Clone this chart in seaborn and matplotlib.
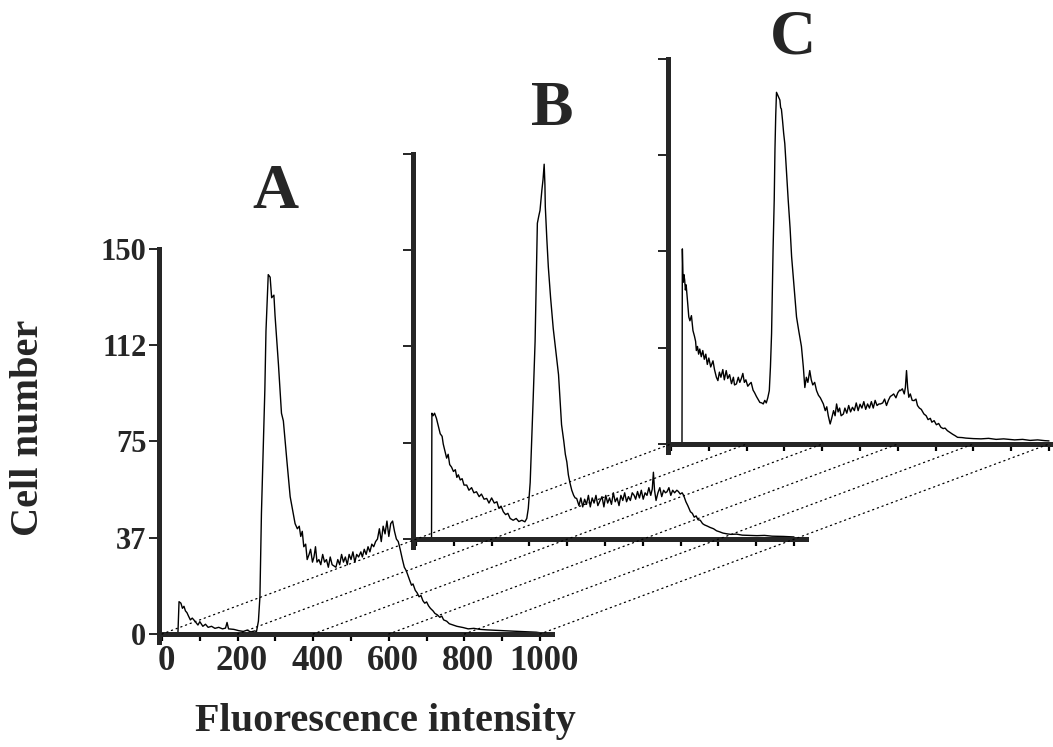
import numpy as np
import pandas as pd
import seaborn as sns
import matplotlib
matplotlib.use("Agg")
import matplotlib.pyplot as plt
from matplotlib.patches import ConnectionPatch
from matplotlib.transforms import ScaledTranslation

# Histogram A (channel, cell count)
a_x = [0, 40, 42, 45, 50, 54, 58, 62, 66, 70, 75, 80, 87, 95, 100, 108, 115, 122, 131, 140,
       150, 160, 168, 172, 176, 190, 203, 215, 225, 235, 245, 250, 255, 259, 263, 268, 272,
       275, 281, 286, 290, 296, 299, 308, 316, 321, 330, 339, 347, 352, 358, 363, 367, 371,
       375, 380, 384, 389, 393, 398, 402, 406, 410, 415, 420, 425, 430, 435, 440, 445, 450,
       455, 460, 465, 470, 475, 480, 485, 490, 495, 500, 505, 510, 515, 520, 526, 530, 535,
       540, 545, 550, 555, 560, 565, 570, 575, 580, 585, 590, 595, 600, 605, 610, 615, 620,
       625, 630, 636, 641, 646, 650, 655, 660, 664, 670, 675, 680, 685, 690, 695, 700, 705,
       710, 717, 722, 728, 735, 740, 745, 753, 760, 770, 780, 797, 810, 825, 841, 860, 886,
       900, 930, 960, 990, 1000]
a_y = [0, 0, 0, 12.6, 12, 10, 10.8, 9, 8.3, 7, 5.5, 6.2, 5, 3.5, 4.8, 3, 3.8, 2.6, 3, 2.2,
       2.6, 2, 2.3, 4.5, 2, 1.8, 1.3, 1.0, 1.5, 0.8, 1.2, 1, 5, 14.5, 47, 73, 95,
       118, 140, 139, 131, 132, 124, 105, 86, 83, 68, 53.5, 47, 43, 41, 42, 38, 40,
       34, 35, 29, 31, 33, 28, 30, 34, 28, 29, 27, 31, 28, 29, 26, 30, 27,
       26.5, 26, 29, 27, 31, 28, 30, 27, 31, 29, 32, 28, 31, 30, 32, 30, 33,
       31, 34, 32, 35, 34, 36, 37, 41, 36, 42, 39, 44, 38, 43, 44, 40, 37,
       36, 33, 29, 26, 24.7, 23, 21, 19, 19.5, 17, 16, 14.5, 15, 13, 12, 12.5, 11,
       10, 9, 8, 7.5, 6.5, 7, 5.5, 5, 4, 3.5, 3, 2.5, 2, 2.2, 1.8, 1.6, 1.4,
       1.3, 1.1, 0.9, 0.7, 0.5]

# Histogram B
b_x = [0, 38, 41, 42, 45, 49, 54, 59, 64, 69, 72, 77, 81, 85, 89, 94, 99, 104, 108, 112,
       117, 122, 127, 134, 140, 147, 153, 160, 167, 173, 180, 187, 193, 200, 207, 214, 219,
       225, 231, 237, 243, 249, 257, 265, 272, 280, 288, 293, 297, 302, 306, 310, 315, 318,
       321, 325, 328, 331, 333, 336, 339, 341, 342, 346, 350, 356, 363, 370, 377, 381, 385,
       391, 395, 399, 403, 407, 412, 417, 421, 425, 431, 436, 441, 446, 451, 456, 461, 466,
       471, 476, 481, 487, 492, 497, 502, 507, 512, 517, 522, 527, 532, 537, 542, 547, 552,
       557, 562, 567, 572, 577, 581, 586, 591, 596, 601, 606, 611, 616, 621, 625, 628, 631,
       635, 640, 645, 650, 655, 660, 664, 669, 674, 679, 684, 690, 694, 699, 704, 708, 714,
       719, 726, 731, 736, 741, 746, 752, 758, 763, 771, 778, 787, 795, 803, 812, 823, 833,
       848, 863, 884, 902, 922, 942, 972, 1000]
b_y = [0, 0, 0, 49, 48, 49, 47, 44, 41, 40, 37, 34, 31.5, 33, 29, 28, 26.3, 27, 24, 25,
       23, 23.5, 21, 21, 19, 20, 18, 18.4, 16.5, 17.5, 15.5, 15.8, 14, 16, 14, 14.5, 12,
       12.8, 10.6, 9.5, 10, 8, 7.3, 8, 6.8, 7.3, 6.7, 8, 11.9, 22, 38, 55, 77, 100,
       123, 126, 128, 133, 136, 140, 146, 138, 129.5, 117, 106, 94, 82, 73, 64, 54, 44.5,
       38, 33, 30, 25, 22, 19, 17, 16, 15.8, 13, 16, 12.5, 15.5, 13.5, 17, 12.5, 16,
       14, 17, 13, 15, 16.5, 12.5, 17, 14, 16, 13.5, 18, 14.5, 16, 13, 17, 15, 18,
       14.5, 16.5, 15, 18, 17, 15.5, 18.5, 16, 19, 15.5, 18, 17, 20, 17, 19.5, 26, 19,
       15, 18, 20, 16.5, 19, 18, 18.4, 20, 17, 19, 18, 19, 18.5, 17.5, 18, 17, 14.5,
       13, 10.6, 10, 8.5, 9, 7.5, 7.3, 6, 5.5, 5, 4.5, 4, 3.2, 2.8, 2.3, 2, 1.8,
       1.9, 1.5, 1.4, 1.3, 1.4, 1.1, 1.0, 0.8]

# Histogram C
c_x = [0, 26, 29, 30, 32, 34, 36, 38, 40, 42, 44, 47, 50, 54, 58, 62, 65, 67, 70, 73,
       76, 80, 84, 88, 92, 96, 100, 105, 111, 115, 120, 124, 128, 132, 137, 141, 146, 150,
       155, 160, 165, 168, 173, 178, 182, 186, 190, 194, 198, 203, 208, 212, 217, 221, 226,
       230, 235, 240, 244, 248, 252, 256, 260, 263, 266, 268, 270, 273, 275, 277, 279, 282,
       285, 288, 290, 292, 295, 298, 301, 305, 310, 315, 319, 325, 332, 338, 345, 350, 354,
       358, 362, 367, 371, 375, 380, 385, 390, 395, 400, 403, 408, 412, 416, 421, 425, 430,
       434, 438, 442, 446, 450, 456, 460, 465, 470, 475, 480, 485, 490, 495, 500, 505, 510,
       515, 520, 525, 530, 535, 540, 545, 550, 554, 560, 565, 570, 575, 580, 585, 589, 595,
       600, 605, 607, 612, 617, 620, 623, 626, 629, 633, 638, 643, 648, 652, 657, 662, 669,
       675, 680, 686, 690, 696, 702, 708, 714, 720, 725, 731, 738, 745, 752, 758, 770, 780,
       800, 820, 840, 860, 880, 900, 909, 930, 950, 970, 989, 1000]
c_y = [0, 0, 0, 76, 63, 66, 64, 60, 62, 58.6, 55, 49.5, 48, 50, 44.2, 42, 40, 36.4, 38, 35,
       37, 34, 36.4, 33, 35, 31, 33.5, 30, 32.4, 29, 26, 24.7, 28, 26, 29, 25, 28.6, 25.5,
       27, 23.5, 26, 23, 23.4, 26, 24, 25.5, 27.5, 24, 25, 22.5, 23.4, 24, 21, 20, 18.5,
       17.5, 16.2, 16, 15.6, 17, 16, 18, 20.8, 30, 43, 60, 76, 95, 115, 128, 137, 136,
       135, 134, 131, 130.5, 126, 121, 117, 107, 95, 84, 73, 62, 49.5, 44, 38, 30, 22,
       26, 24, 28.6, 25, 23, 24, 20.8, 19, 18, 16.5, 15.6, 13, 14.5, 11, 7.8, 10, 13,
       11, 15.6, 12.5, 14, 11, 11.7, 14, 12, 15, 12.5, 14.3, 13, 16, 13, 15.5, 14, 16.5,
       13.5, 15.6, 14, 16.5, 14, 17, 15, 15.6, 15.6, 16, 17.5, 15, 17, 18.5, 19, 19.5, 18,
       20, 21, 20.8, 21.5, 19.5, 22, 28.6, 22, 18.2, 19.5, 17, 16.9, 17.5, 15, 14, 13.5, 11.7,
       11, 9.5, 10, 8.5, 9.1, 7.5, 8, 6.5, 6, 6.2, 5.2, 4.5, 3.8, 3.2, 2.6, 2.5, 2.3,
       2.1, 2, 2.2, 1.8, 2.0, 1.7, 1.6, 1.8, 1.4, 1.6, 1.3, 1.2]

y_ticks = [0, 37.5, 75, 112.5, 150]
y_tick_labels = ["0", "37", "75", "112", "150"]
x_ticks = list(range(0, 1001, 100))
x_tick_labels = ["0", "", "200", "", "400", "", "600", "", "800", "", "1000"]
panel_names = ["A", "B", "C"]

sns.set_style("ticks")
plt.rcParams['font.family'] = ['Liberation Serif', 'DejaVu Serif']
plt.rcParams['font.weight'] = 'bold'

W, H = 1053, 747
fig = plt.figure(figsize=(W / 100, H / 100), dpi=100)

XLIM = (-8, 1033)
YLIM = (-3, 150)
PX_X = 0.378   # pixels per channel
PX_Y = 2.567   # pixels per cell


def add_panel(spine_x, base_y):
    bottom_px = base_y - YLIM[0] * PX_Y
    rect = [spine_x / W, (H - bottom_px) / H,
            (XLIM[1] - XLIM[0]) * PX_X / W, (YLIM[1] - YLIM[0]) * PX_Y / H]
    return fig.add_axes(rect)


# each panel shifted up and right from the previous one
panel_pos = [(159, 634), (413, 539), (668, 444)]
label_pos = [(275, 208), (552, 125), (793, 54)]
curves = [(a_x, a_y), (b_x, b_y), (c_x, c_y)]

axes = []
for i, (name, (xs, ys)) in enumerate(zip(panel_names, curves)):
    ax = add_panel(*panel_pos[i])
    df = pd.DataFrame({"channel": xs, "count": ys})
    sns.lineplot(data=df, x="channel", y="count", ax=ax, color="black",
                 linewidth=1.0, estimator=None, sort=False)
    ax.set_xlim(*XLIM)
    ax.set_ylim(*YLIM)
    ax.patch.set_alpha(0)
    for side in ["top", "right"]:
        ax.spines[side].set_visible(False)
    ax.spines["bottom"].set_position(("data", 0))
    ax.spines["left"].set_linewidth(3.6)
    ax.spines["bottom"].set_linewidth(3.6)
    ax.set_xticks(x_ticks, x_tick_labels)
    ax.set_yticks(y_ticks, y_tick_labels)
    ax.tick_params(axis="y", direction="out", length=7, width=1.2,
                   labelsize=22, pad=2, color="black")
    ax.tick_params(axis="x", direction="out", length=5, width=1.6,
                   labelsize=25, pad=3, color="black")
    if i > 0:
        ax.tick_params(labelbottom=False, labelleft=False)
    else:
        # the printed numbers sit a little right of their ticks
        shift = ScaledTranslation(4 / 100, 0, fig.dpi_scale_trans)
        for lab in ax.get_xticklabels():
            lab.set_transform(lab.get_transform() + shift)
    ax.set_xlabel("")
    ax.set_ylabel("")
    lx, ly = label_pos[i]
    fig.text(lx / W, 1 - ly / H, name, fontsize=46, ha="center",
             va="baseline", weight="bold")
    axes.append(ax)

# dotted guide lines joining the matching channels of A and C
for k in range(0, 1001, 200):
    con = ConnectionPatch(xyA=(k, 0), coordsA=axes[0].transData,
                          xyB=(k, 0), coordsB=axes[2].transData,
                          color="black", lw=0.9, linestyle=(0, (1, 3)))
    fig.add_artist(con)

fig.text(29 / W, 1 - 428 / H, "Cell number", rotation=90, fontsize=29,
         ha="center", va="center", weight="bold")
fig.text(385 / W, 1 - 722 / H, "Fluorescence intensity", fontsize=29,
         ha="center", va="center", weight="bold")

fig.savefig("out.png", dpi=100, facecolor="white")
